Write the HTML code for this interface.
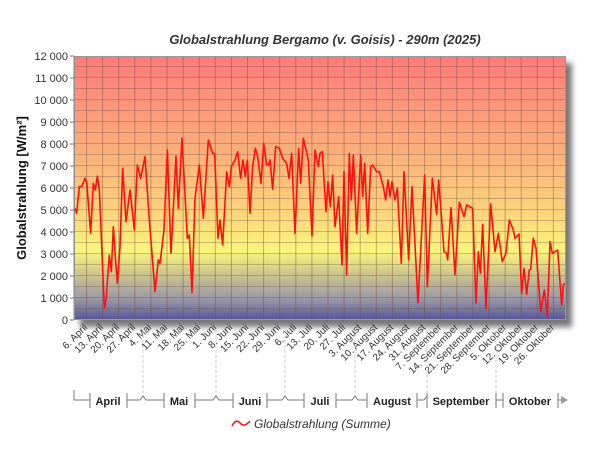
<!DOCTYPE html>
<html><head><meta charset="utf-8"><style>
html,body{margin:0;padding:0;background:#fff;}
svg{display:block;font-family:"Liberation Sans",sans-serif;}
</style></head><body>
<svg width="600" height="450" viewBox="0 0 600 450" xmlns="http://www.w3.org/2000/svg">
<defs>
<linearGradient id="bg" x1="0" y1="0" x2="0" y2="1">
<stop offset="0" stop-color="#fd7b7b"/>
<stop offset="0.38" stop-color="#fbb27c"/>
<stop offset="0.58" stop-color="#fcd27c"/>
<stop offset="0.74" stop-color="#fbf57c"/>
<stop offset="0.82" stop-color="#cfc98a"/>
<stop offset="0.92" stop-color="#9c98a8"/>
<stop offset="1" stop-color="#55559a"/>
</linearGradient>
<pattern id="vg" x="86" y="0" width="16.1" height="11" patternUnits="userSpaceOnUse">
<line x1="0.5" y1="0" x2="0.5" y2="11" stroke="#6a4a3a" stroke-opacity="0.42" stroke-width="1"/>
<line x1="0" y1="0.5" x2="16.1" y2="0.5" stroke="#6a4a3a" stroke-opacity="0.32" stroke-width="1"/>
</pattern>
<filter id="sh" x="-5%" y="-5%" width="115%" height="115%"><feGaussianBlur stdDeviation="3"/></filter>
</defs>
<text x="325" y="44" text-anchor="middle" font-size="13" font-weight="bold" font-style="italic" fill="#333">Globalstrahlung Bergamo (v. Goisis) - 290m (2025)</text>
<rect x="80" y="63" width="492" height="264" fill="#777" filter="url(#sh)"/>
<rect x="74" y="56" width="492" height="264" fill="url(#bg)"/>
<rect x="74" y="45" width="492" height="275" fill="url(#vg)" clip-path="inset(11px 0 0 0)"/>
<rect x="74.5" y="56.5" width="491" height="263" fill="none" stroke="#999" stroke-width="1"/>
<line x1="74" y1="56" x2="74" y2="320" stroke="#888"/>
<g font-size="11" fill="#333" text-anchor="end">
<text x="68" y="60">12 000</text><text x="68" y="82">11 000</text><text x="68" y="104">10 000</text>
<text x="68" y="126">9 000</text><text x="68" y="148">8 000</text><text x="68" y="170">7 000</text>
<text x="68" y="192">6 000</text><text x="68" y="214">5 000</text><text x="68" y="236">4 000</text>
<text x="68" y="258">3 000</text><text x="68" y="280">2 000</text><text x="68" y="302">1 000</text>
<text x="68" y="324">0</text>
</g>
<g stroke="#777"><line x1="70" y1="56" x2="74" y2="56"/><line x1="70" y1="78" x2="74" y2="78"/><line x1="70" y1="100" x2="74" y2="100"/><line x1="70" y1="122" x2="74" y2="122"/><line x1="70" y1="144" x2="74" y2="144"/><line x1="70" y1="166" x2="74" y2="166"/><line x1="70" y1="188" x2="74" y2="188"/><line x1="70" y1="210" x2="74" y2="210"/><line x1="70" y1="232" x2="74" y2="232"/><line x1="70" y1="254" x2="74" y2="254"/><line x1="70" y1="276" x2="74" y2="276"/><line x1="70" y1="298" x2="74" y2="298"/><line x1="70" y1="320" x2="74" y2="320"/></g>
<text transform="translate(26,188) rotate(-90)" text-anchor="middle" font-size="13" font-weight="bold" fill="#111">Globalstrahlung [W/m²]</text>
<g transform="translate(70,120) scale(0.33333)">
<polyline fill="none" stroke="#ff1010" stroke-width="1.6" vector-effect="non-scaling-stroke" stroke-linejoin="round" points="15,265 20,280 28,200 35,200 45,175 50,185 62,340 70,190 76,210 82,168 88,210 103,565 108,540 118,405 124,455 130,320 136,410 142,490 150,380 158,145 168,305 180,210 193,330 202,135 212,175 225,110 238,300 255,515 265,420 270,430 282,330 292,90 303,400 318,108 325,265 336,55 352,355 358,345 366,518 375,235 388,135 400,295 415,60 428,100 434,100 444,355 450,300 458,375 470,155 478,200 484,140 495,120 503,95 512,175 519,120 526,170 532,120 540,280 548,140 556,85 563,110 573,190 581,70 590,135 595,135 600,120 608,208 617,80 628,85 638,115 650,130 657,175 665,100 675,340 686,85 692,190 700,55 715,120 726,348 735,90 745,140 750,100 757,95 768,275 774,185 781,260 788,165 795,320 806,230 816,435 822,155 830,465 838,100 844,240 850,105 860,340 872,105 878,230 884,130 893,340 902,140 908,135 920,155 928,155 940,200 947,240 954,180 960,230 966,185 975,240 982,205 994,430 1002,155 1016,420 1026,200 1044,548 1064,165 1072,500 1087,175 1100,283 1106,180 1115,300 1122,395 1130,400 1133,420 1143,263 1155,465 1168,247 1182,290 1190,255 1208,265 1218,550 1225,395 1231,460 1238,313 1248,565 1262,252 1275,395 1285,340 1297,425 1308,400 1318,300 1330,330 1335,355 1347,342 1355,520 1362,445 1370,523 1378,450 1382,448 1390,355 1398,385 1412,575 1423,510 1432,590 1440,365 1447,400 1463,390 1475,555 1480,495 1485,490"/>
</g>
<g font-size="10" fill="#333" text-anchor="end">
<text transform="translate(88,328) rotate(-45)">6. April</text>
<text transform="translate(104,328) rotate(-45)">13. April</text>
<text transform="translate(120,328) rotate(-45)">20. April</text>
<text transform="translate(136,328) rotate(-45)">27. April</text>
<text transform="translate(152,328) rotate(-45)">4. Mai</text>
<text transform="translate(168,328) rotate(-45)">11. Mai</text>
<text transform="translate(185,328) rotate(-45)">18. Mai</text>
<text transform="translate(201,328) rotate(-45)">25. Mai</text>
<text transform="translate(217,328) rotate(-45)">1. Juni</text>
<text transform="translate(233,328) rotate(-45)">8. Juni</text>
<text transform="translate(249,328) rotate(-45)">15. Juni</text>
<text transform="translate(265,328) rotate(-45)">22. Juni</text>
<text transform="translate(281,328) rotate(-45)">29. Juni</text>
<text transform="translate(297,328) rotate(-45)">6. Juli</text>
<text transform="translate(313,328) rotate(-45)">13. Juli</text>
<text transform="translate(330,328) rotate(-45)">20. Juli</text>
<text transform="translate(346,328) rotate(-45)">27. Juli</text>
<text transform="translate(362,328) rotate(-45)">3. August</text>
<text transform="translate(378,328) rotate(-45)">10. August</text>
<text transform="translate(394,328) rotate(-45)">17. August</text>
<text transform="translate(410,328) rotate(-45)">24. August</text>
<text transform="translate(426,328) rotate(-45)">31. August</text>
<text transform="translate(442,328) rotate(-45)">7. September</text>
<text transform="translate(459,328) rotate(-45)">14. September</text>
<text transform="translate(475,328) rotate(-45)">21. September</text>
<text transform="translate(491,328) rotate(-45)">28. September</text>
<text transform="translate(507,328) rotate(-45)">5. Oktober</text>
<text transform="translate(523,328) rotate(-45)">12. Oktober</text>
<text transform="translate(539,328) rotate(-45)">19. Oktober</text>
<text transform="translate(555,328) rotate(-45)">26. Oktober</text>
</g>
<g stroke="#ccc" stroke-dasharray="3,2"><line x1="143" y1="330" x2="143" y2="395"/><line x1="216" y1="330" x2="216" y2="395"/><line x1="285" y1="330" x2="285" y2="395"/><line x1="355" y1="330" x2="355" y2="395"/><line x1="427" y1="330" x2="427" y2="395"/><line x1="496" y1="330" x2="496" y2="395"/></g>
<g stroke="#777" fill="none">
<polyline points="74,390 74,400 90,400"/><line x1="90" y1="393" x2="90" y2="408"/>
<line x1="127" y1="393" x2="127" y2="408"/><polyline points="127,400 140,400 143,396 146,400 164,400"/>
<line x1="164" y1="393" x2="164" y2="408"/><line x1="195" y1="393" x2="195" y2="408"/>
<polyline points="195,400 213,400 216,396 219,400 233,400"/><line x1="233" y1="393" x2="233" y2="408"/>
<line x1="267" y1="393" x2="267" y2="408"/><polyline points="267,400 282,400 285,396 288,400 304,400"/>
<line x1="304" y1="393" x2="304" y2="408"/><line x1="336" y1="393" x2="336" y2="408"/>
<polyline points="336,400 352,400 355,396 358,400 367,400"/><line x1="367" y1="393" x2="367" y2="408"/>
<line x1="417" y1="393" x2="417" y2="408"/><polyline points="417,400 424,400 427,396 427,393"/>
<line x1="427" y1="393" x2="427" y2="408"/><line x1="496" y1="393" x2="496" y2="408"/>
<polyline points="496,400 503,400"/><line x1="503" y1="393" x2="503" y2="408"/>
<line x1="558" y1="393" x2="558" y2="408"/><line x1="558" y1="400" x2="562" y2="400"/>
</g>
<polygon points="561,396 568,400 561,404" fill="#999"/>
<g font-size="11" font-weight="bold" fill="#222" text-anchor="middle">
<text x="108" y="405">April</text><text x="179" y="405">Mai</text><text x="250" y="405">Juni</text>
<text x="320" y="405">Juli</text><text x="392" y="405">August</text><text x="461" y="405">September</text><text x="530" y="405">Oktober</text>
</g>
<path d="M232,426 Q236,418 240,423 T250,421" fill="none" stroke="#ff1010" stroke-width="1.5"/>
<text x="254" y="428" font-size="12" font-style="italic" fill="#333">Globalstrahlung (Summe)</text>
</svg>
</body></html>
